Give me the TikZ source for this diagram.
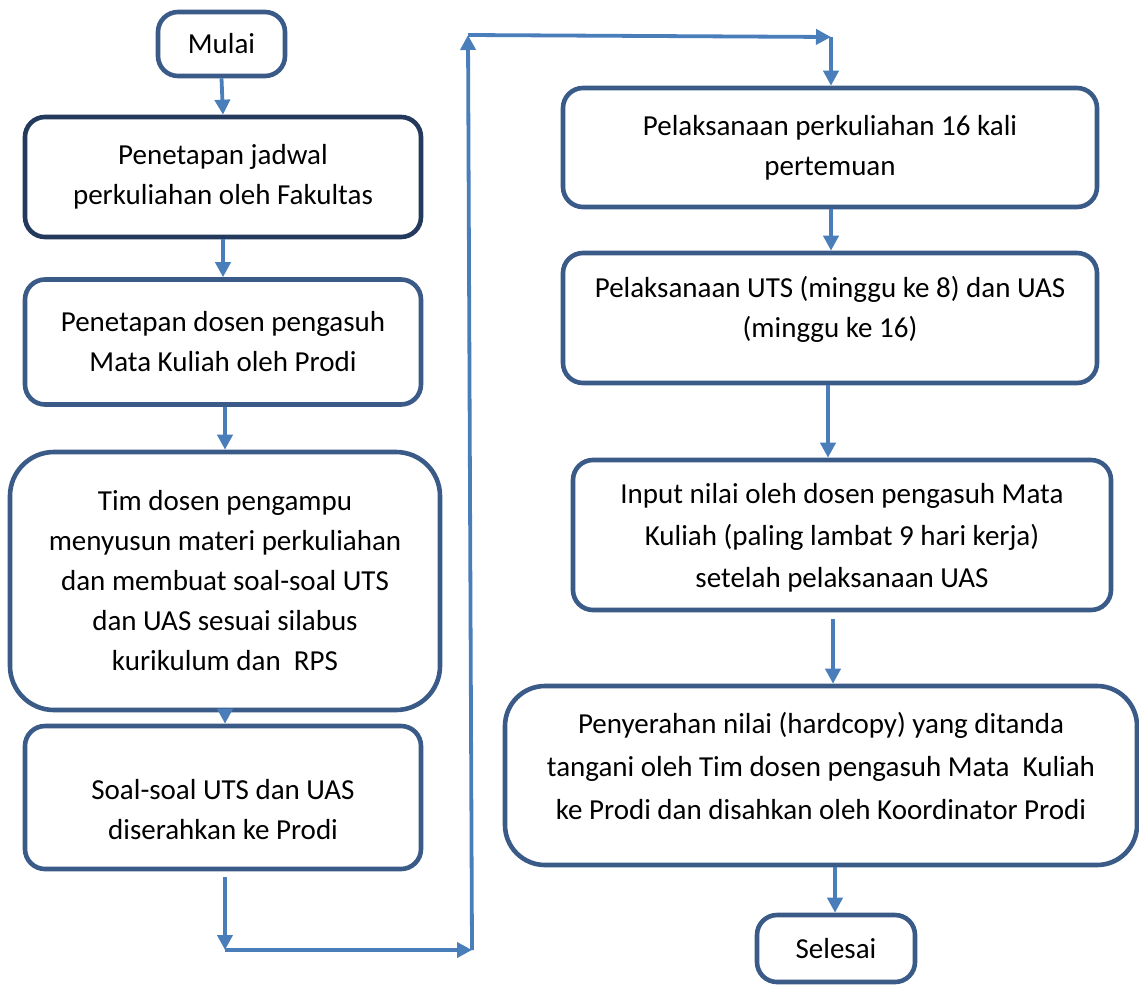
\documentclass[tikz,border=0pt]{standalone}
\usepackage{fontspec}
\setmainfont{Carlito}
\usetikzlibrary{arrows.meta}
\definecolor{boxc}{RGB}{58,90,136}
\definecolor{boxd}{RGB}{36,58,92}
\definecolor{arrc}{RGB}{74,126,187}
\begin{document}
\begin{tikzpicture}[x=0.5pt,y=-0.5pt,
  txt/.style={align=center, font=\fontsize{14.5}{20}\selectfont, inner sep=0pt},
  fc/.style={txt, draw=boxc, line width=2.3pt, rounded corners=10pt, fill=white},
  arr/.style={draw=arrc, line width=1.9pt, -{Triangle[length=7.5pt,width=7.5pt]}}]
\useasboundingbox (0,0) rectangle (1139,985);

% left column
\node[fc, minimum width=63.5pt, minimum height=32pt] (n1) at (221.5,44) {Mulai};
\node[fc, draw=boxd, minimum width=198pt, minimum height=60pt] (n2) at (223,177)
  {Penetapan jadwal\\perkuliahan oleh Fakultas};
\node[fc, minimum width=198pt, minimum height=62.5pt] (n3) at (223,342)
  {Penetapan dosen pengasuh\\Mata Kuliah oleh Prodi};
\node[fc, rounded corners=22pt, minimum width=215pt, minimum height=129pt] (n4) at (225,581)
  {Tim dosen pengampu\\menyusun materi perkuliahan\\dan membuat soal-soal UTS\\dan UAS sesuai silabus\\kurikulum dan\ \ RPS};
\node[fc, minimum width=198pt, minimum height=71.5pt] (n5) at (223,797.5) {};
\node[txt] (t5) at ([yshift=-6pt]n5.center) {Soal-soal UTS dan UAS\\diserahkan ke Prodi};

% right column
\node[fc, minimum width=267pt, minimum height=59.5pt] (n6) at (830,147.5)
  {Pelaksanaan perkuliahan 16 kali\\pertemuan};
\node[fc, minimum width=267pt, minimum height=65pt] (n7) at (830,318) {};
\node[txt] (t7) at ([yshift=4.5pt]n7.center) {Pelaksanaan UTS (minggu ke 8) dan UAS\\(minggu ke 16)};
\node[fc, minimum width=269pt, minimum height=75pt] (n8) at (842,535) {};
\node[txt, font=\fontsize{14.5}{21}\selectfont] (t8) at ([yshift=-1.5pt]n8.center)
  {Input nilai oleh dosen pengasuh Mata\\Kuliah (paling lambat 9 hari kerja)\\setelah pelaksanaan UAS};
\node[fc, rounded corners=20pt, minimum width=316pt, minimum height=89.5pt] (n9) at (821,775.5) {};
\node[txt, font=\fontsize{14.5}{21.5}\selectfont] (t9) at ([yshift=5pt]n9.center)
  {Penyerahan nilai (hardcopy) yang ditanda\\tangani oleh Tim dosen pengasuh Mata\ \ Kuliah\\ke Prodi dan disahkan oleh Koordinator Prodi};
\node[fc, minimum width=79pt, minimum height=33.5pt] (n10) at (836,948.5) {Selesai};

% connector points
\coordinate (p1) at (225,950);
\coordinate (p2) at (472,950);
\coordinate (p3) at (468,35);
\coordinate (p4) at (831,37);
\coordinate (c7) at (828,0);
\coordinate (c8) at (833,0);
\coordinate (c9) at (835,0);

% arrows
\draw[arr] (n1.south) -- (n2.north);
\draw[arr] (n2.south) -- (n3.north);
\draw[arr] (n3.south -| p1) -- (n4.north -| p1);
\draw[arr] (n4.south -| p1) -- (n5.north -| p1);
\draw[arr, shorten <=3pt] (n5.south -| p1) -- (p1);
\draw[arr] (p1) -- (p2);
\draw[arr] (p2) -- (p3);
\draw[arr] (p3) -- (p4);
\draw[arr] (p4) -- (n6.north -| p4);
\draw[arr] (n6.south -| p4) -- (n7.north -| p4);
\draw[arr] (n7.south -| c7) -- (n8.north -| c7);
\draw[arr, shorten <=3.5pt] (n8.south -| c8) -- (n9.north -| c8);
\draw[arr] (n9.south -| c9) -- (n10.north -| c9);
\end{tikzpicture}
\end{document}
